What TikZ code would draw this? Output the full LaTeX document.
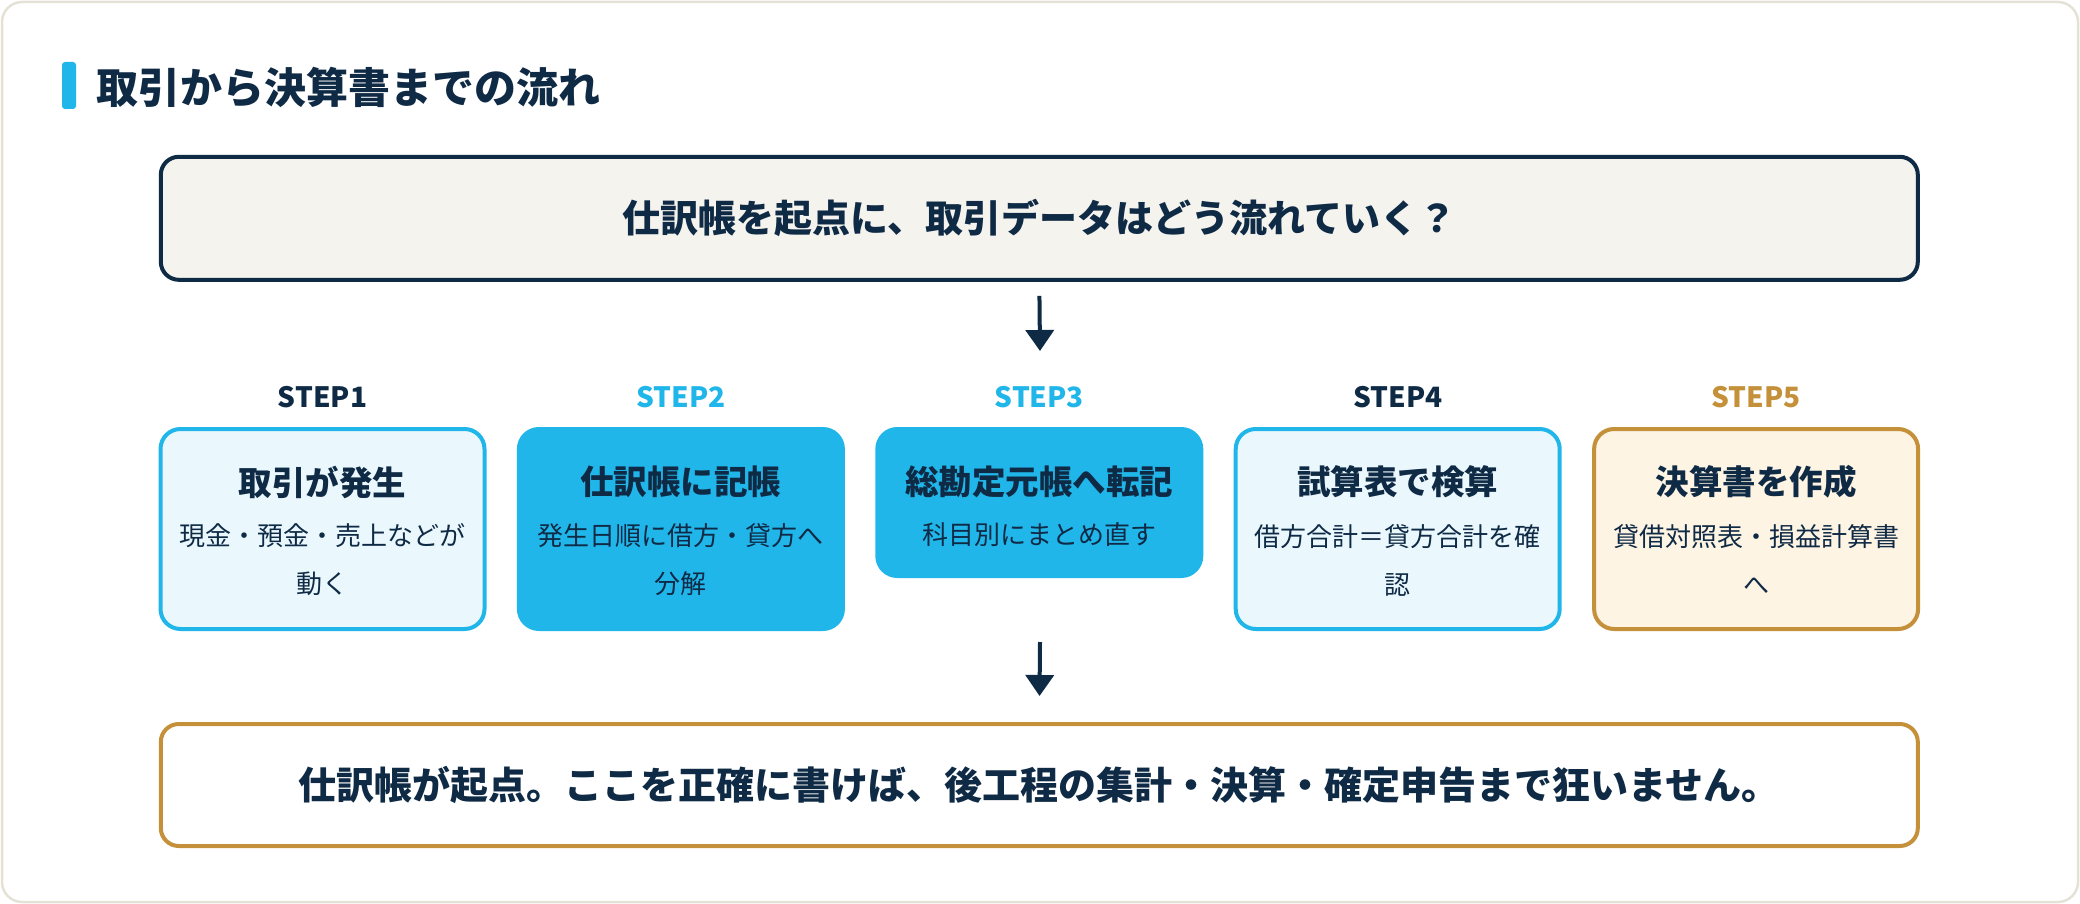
\documentclass[tikz,border=0pt]{standalone}
\usepackage{fontspec}
\setmainfont{Noto Sans CJK JP}
\usepackage{tikz}
\usetikzlibrary{positioning}
\usetikzlibrary{arrows.meta}

\definecolor{navy}{HTML}{0F2A45}
\definecolor{sky}{HTML}{21B6EA}
\definecolor{skylight}{HTML}{EAF8FD}
\definecolor{gold}{HTML}{C4913A}
\definecolor{cream}{HTML}{FDF4E4}
\definecolor{paper}{HTML}{F4F3EE}
\definecolor{framegray}{HTML}{E4E2D6}

\begin{document}
\begin{tikzpicture}[x=1pt,y=-1pt]
        \tikzstyle{stepbox}=[rounded corners=20pt, line width=4pt,
            minimum width=324pt, minimum height=200pt, anchor=north, inner sep=0pt]
        \tikzstyle{steplabel}=[font=\fontsize{28}{32}\selectfont\bfseries]
        \tikzstyle{steptitle}=[font=\fontsize{33.5}{40}\selectfont\bfseries, text=navy]
        \tikzstyle{stepnote}=[font=\fontsize{26}{48}\selectfont, text=navy, align=center]
        \tikzstyle{flowarrow}=[-{Triangle[width=28pt,length=21pt]}, line width=4pt, draw=navy]

        \useasboundingbox (0,0) rectangle (2080,904);
        \draw[framegray, fill=white, line width=2.5pt, rounded corners=20pt]
            (2,2) rectangle (2078,902);

        % heading
        \fill[sky, rounded corners=3pt] (62,62) rectangle (76,109);
        \node[anchor=west, inner sep=0pt, text=navy,
            font=\fontsize{42}{48}\selectfont\bfseries] (head) at (96,87)
            {取引から決算書までの流れ};

        \node[draw=navy, fill=paper, line width=4pt, rounded corners=18pt,
            minimum width=1757pt, minimum height=123pt, text=navy,
            font=\fontsize{38}{44}\selectfont\bfseries] (top) at (1039.3,218.3)
            {仕訳帳を起点に、取引データはどう流れていく？};

        % five steps
        \node[stepbox, draw=sky, fill=skylight] (b1) at (322.5,427) {};
        \node[stepbox, draw=sky, fill=sky] (b2) at (680.9,427) {};
        \node[stepbox, draw=sky, fill=sky, minimum height=147pt] (b3) at (1039.3,427) {};
        \node[stepbox, draw=sky, fill=skylight] (b4) at (1397.7,427) {};
        \node[stepbox, draw=gold, fill=cream] (b5) at (1756.1,427) {};

        \node[steplabel, text=navy] (l1) at (322.5,397) {STEP1};
        \node[steplabel, text=sky] (l2) at (680.9,397) {STEP2};
        \node[steplabel, text=sky] (l3) at (1039.3,397) {STEP3};
        \node[steplabel, text=navy] (l4) at (1397.7,397) {STEP4};
        \node[steplabel, text=gold] (l5) at (1756.1,397) {STEP5};

        \node[steptitle] (t1) at (322.5,482) {取引が発生};
        \node[steptitle] (t2) at (680.9,482) {仕訳帳に記帳};
        \node[steptitle] (t3) at (1039.3,482) {総勘定元帳へ転記};
        \node[steptitle] (t4) at (1397.7,482) {試算表で検算};
        \node[steptitle] (t5) at (1756.1,482) {決算書を作成};

        \node[stepnote] (n1) at (322.5,560) {現金・預金・売上などが\\動く};
        \node[stepnote] (n2) at (680.9,560) {発生日順に借方・貸方へ\\分解};
        \node[stepnote] (n3) at (1039.3,535) {科目別にまとめ直す};
        \node[stepnote] (n4) at (1397.7,560) {借方合計＝貸方合計を確\\認};
        \node[stepnote] (n5) at (1756.1,560) {貸借対照表・損益計算書\\へ};

        \node[draw=gold, fill=white, line width=4pt, rounded corners=18pt,
            minimum width=1757pt, minimum height=122pt, text=navy,
            font=\fontsize{38}{44}\selectfont\bfseries] (bottom) at (1039.3,785)
            {仕訳帳が起点。ここを正確に書けば、後工程の集計・決算・確定申告まで狂いません。};

        \coordinate (a1) at (1040,351);
        \coordinate (a2) at (1040,642);
        \draw[flowarrow, shorten <=14pt] (top.south) -- (a1);
        \draw[flowarrow, shorten >=26pt] (a2) -- (bottom.north);
\end{tikzpicture}
\end{document}
